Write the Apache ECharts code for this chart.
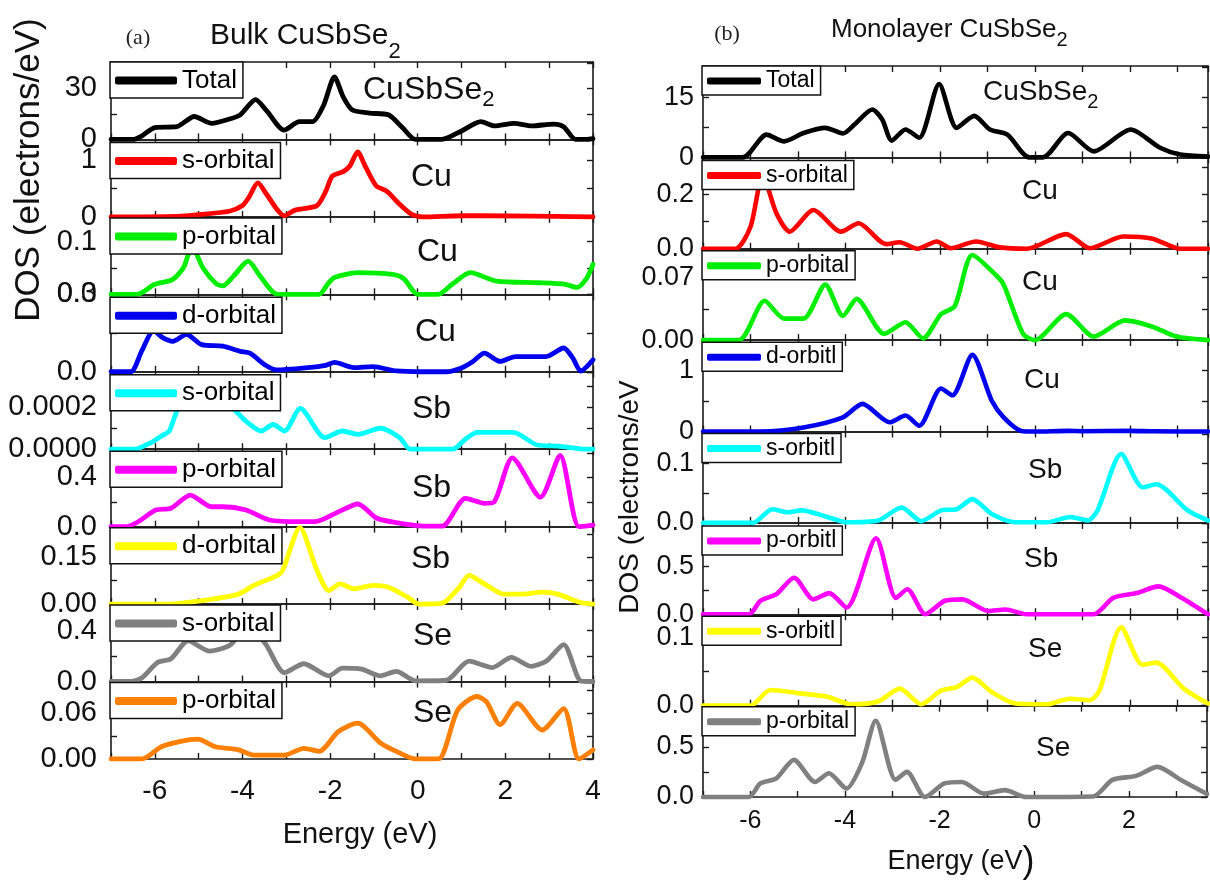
<!DOCTYPE html>
<html><head><meta charset="utf-8">
<script src="https://cdn.jsdelivr.net/npm/echarts@6/dist/echarts.min.js"></script>
<style>html,body{margin:0;padding:0;background:#fff}#c{width:1210px;height:884px}</style>
</head><body><div id="c"></div>
<script>
// ---------------- DATA (energy in eV, DOS in electrons/eV) ----------------
// Panel (a): Bulk CuSbSe2
const bulkTotal = [[-7,0],[-6.5,0],[-6.3,2],[-6.0,7],[-5.5,7.5],[-5.1,13.5],[-4.7,9.5],[-4.3,12],[-4.05,14.5],[-3.7,23.5],[-3.45,17],[-3.05,5.5],[-2.7,10.5],[-2.4,10.5],[-2.15,20],[-1.9,36.8],[-1.7,25],[-1.5,17.5],[-1.1,15.5],[-0.67,14.5],[-0.35,7],[-0.05,0],[0.55,0],[1.0,5],[1.44,10.5],[1.75,8],[2.2,9.5],[2.6,8],[3.1,9],[3.33,7.5],[3.6,0],[3.85,0],[4,0.5]];
const bulkCuS = [[-7,0],[-5.5,0.01],[-5,0.04],[-4.3,0.1],[-4,0.2],[-3.85,0.35],[-3.65,0.6],[-3.45,0.4],[-3.2,0.12],[-3.05,0.02],[-2.8,0.12],[-2.3,0.2],[-2.1,0.45],[-1.95,0.72],[-1.7,0.8],[-1.55,0.9],[-1.37,1.15],[-1.2,0.9],[-0.95,0.55],[-0.7,0.45],[-0.45,0.25],[-0.15,0.05],[0.1,0],[1,0.02],[1.5,0.02],[4,0]];
const bulkCuP = [[-7,0],[-6.4,0],[-6.0,0.019],[-5.6,0.028],[-5.35,0.05],[-5.15,0.09],[-4.9,0.05],[-4.6,0.02],[-4.45,0.016],[-4.2,0.035],[-3.87,0.063],[-3.6,0.035],[-3.2,0],[-2.25,0],[-2.05,0.02],[-1.9,0.032],[-1.37,0.041],[-0.58,0.038],[-0.32,0.03],[0,0],[0.47,0],[0.8,0.02],[1.2,0.041],[1.8,0.025],[2.75,0.022],[3.37,0.019],[3.63,0.013],[3.85,0.03],[4,0.057]];
const bulkCuD = [[-7,0],[-6.55,0],[-6.3,0.08],[-6.03,0.158],[-5.8,0.13],[-5.59,0.118],[-5.28,0.145],[-4.93,0.105],[-4.45,0.099],[-4.05,0.079],[-3.83,0.072],[-3.48,0.026],[-3.22,0.007],[-2.51,0.016],[-2.1,0.025],[-1.9,0.036],[-1.46,0.016],[-1.02,0.02],[-0.49,0.003],[0.1,0],[0.65,0],[1.0,0.015],[1.26,0.04],[1.52,0.072],[1.88,0.04],[2.23,0.059],[2.93,0.059],[3.33,0.092],[3.54,0.053],[3.72,0.003],[4,0.046]];
const bulkSbS = [[-7,0],[-6.46,0],[-6.1,0.00003],[-5.85,0.000063],[-5.67,0.000087],[-5.45,0.0002],[-5.0,0.00027],[-4.6,0.00024],[-4.2,0.00019],[-3.92,0.000134],[-3.57,0.000087],[-3.3,0.000118],[-3.04,0.000087],[-2.68,0.000195],[-2.12,0.000055],[-1.72,0.000087],[-1.37,0.000071],[-0.85,0.0001],[-0.41,0.000055],[-0.17,0],[0.8,0],[1.1,0.00005],[1.36,0.00008],[2.18,0.00008],[2.73,0.00002],[3.2,0.000015],[3.87,0],[4,0]];
const bulkSbP = [[-7,0],[-6.65,0],[-6.38,0.04],[-5.98,0.135],[-5.63,0.15],[-5.19,0.257],[-4.71,0.162],[-4.45,0.162],[-3.92,0.135],[-3.39,0.054],[-2.69,0.04],[-2.34,0.04],[-1.81,0.12],[-1.37,0.184],[-0.93,0.068],[-0.49,0.032],[0.12,0.005],[0.56,0.005],[1.09,0.23],[1.52,0.19],[1.74,0.2],[2.16,0.56],[2.8,0.24],[3.25,0.58],[3.68,0],[4,0.013]];
const bulkSbD = [[-7,0],[-5.67,0],[-4.97,0.01],[-4.09,0.032],[-3.74,0.06],[-3.2,0.092],[-3.08,0.108],[-2.69,0.245],[-2.3,0.108],[-2.03,0.043],[-1.77,0.065],[-1.46,0.049],[-1.02,0.06],[-0.67,0.054],[-0.23,0.022],[0.03,0],[0.56,0.003],[0.95,0.054],[1.17,0.092],[1.52,0.065],[1.96,0.032],[2.4,0.032],[2.84,0.038],[3.19,0.032],[3.72,0.005],[4,0]];
const bulkSeS = [[-7,0],[-6.55,0],[-6.29,0.03],[-5.94,0.15],[-5.63,0.18],[-5.24,0.32],[-4.75,0.24],[-4.27,0.29],[-3.9,0.44],[-3.48,0.3],[-3.04,0.07],[-2.6,0.14],[-2.03,0.045],[-1.72,0.105],[-1.28,0.097],[-0.85,0.045],[-0.49,0.08],[-0.05,0.005],[0.65,0.01],[1.17,0.16],[1.7,0.11],[2.14,0.19],[2.58,0.12],[2.93,0.16],[3.33,0.29],[3.72,0.005],[4,0]];
const bulkSeP = [[-7,0],[-6.29,0],[-5.85,0.016],[-5.41,0.023],[-5.02,0.026],[-4.62,0.016],[-4.09,0.012],[-3.74,0.005],[-3.04,0.005],[-2.6,0.014],[-2.25,0.01],[-1.81,0.036],[-1.37,0.047],[-0.85,0.021],[-0.49,0.01],[-0.05,0],[0.47,0],[0.91,0.064],[1.35,0.082],[1.57,0.075],[1.88,0.045],[2.27,0.073],[2.84,0.038],[3.33,0.066],[3.68,0],[4,0.012]];

// Panel (b): Monolayer CuSbSe2
const monoTotal = [[-7,0],[-6.16,0],[-5.66,5.7],[-5.29,4],[-4.88,6.1],[-4.42,7.4],[-4.05,6],[-3.8,8.3],[-3.43,12],[-3.22,9.5],[-3.02,4.2],[-2.73,7],[-2.44,4.9],[-2.02,18.4],[-1.65,7.4],[-1.28,10.4],[-0.95,7],[-0.58,5.7],[-0.12,0],[0.17,0],[0.7,6.1],[1.24,1.5],[2.02,7],[2.64,2.4],[3.06,0.7],[3.65,0.2]];
const monoCuS = [[-7,0],[-6.32,0],[-6.0,0.08],[-5.74,0.27],[-5.45,0.13],[-5.17,0.063],[-4.67,0.143],[-4.09,0.063],[-3.72,0.094],[-3.14,0.017],[-2.85,0.024],[-2.48,0],[-2.07,0.027],[-1.78,0.002],[-1.24,0.027],[-0.74,0.005],[-0.17,0],[0.66,0.054],[1.16,0.002],[1.86,0.045],[2.48,0.037],[3.06,0],[3.65,0]];
const monoCuP = [[-7,0],[-6.24,0],[-5.7,0.044],[-5.29,0.024],[-4.88,0.024],[-4.42,0.062],[-4.05,0.027],[-3.76,0.046],[-3.18,0.007],[-2.73,0.02],[-2.36,0.002],[-1.98,0.029],[-1.69,0.038],[-1.32,0.095],[-0.83,0.073],[-0.66,0.062],[-0.25,0.007],[0,0],[0.66,0.029],[1.24,0.004],[1.9,0.022],[2.48,0.015],[2.98,0.004],[3.65,0]];
const monoCuD = [[-7,0],[-5.79,0],[-4.88,0.066],[-4.05,0.23],[-3.64,0.45],[-3.06,0.15],[-2.73,0.26],[-2.44,0.093],[-1.98,0.7],[-1.74,0.59],[-1.32,1.25],[-0.91,0.5],[-0.66,0.23],[-0.29,0.01],[0,0],[0.7,0.01],[1.0,0.005],[2,0.01],[2.5,0.003],[3.65,0]];
const monoSbS = [[-7,0],[-5.95,0],[-5.54,0.023],[-5.21,0.018],[-4.92,0.021],[-4.38,0.01],[-3.97,0.001],[-3.31,0.004],[-2.81,0.026],[-2.4,0.003],[-1.98,0.021],[-1.65,0.023],[-1.32,0.04],[-0.91,0.015],[-0.41,0.001],[0.25,0.001],[0.74,0.01],[1.12,0.004],[1.32,0.021],[1.82,0.116],[2.27,0.06],[2.56,0.065],[3.22,0.021],[3.65,0.004]];
const monoSbP = [[-7,0],[-6.03,0],[-5.79,0.14],[-5.45,0.21],[-5.08,0.38],[-4.67,0.155],[-4.34,0.22],[-3.97,0.07],[-3.35,0.79],[-2.93,0.17],[-2.69,0.26],[-2.31,0],[-1.9,0.14],[-1.53,0.155],[-0.99,0.034],[-0.62,0.05],[-0.17,0],[1.24,0],[1.65,0.17],[2.15,0.22],[2.6,0.29],[3.1,0.17],[3.65,0]];
const monoSeS = [[-7,0],[-6.0,0],[-5.58,0.023],[-4.96,0.018],[-4.38,0.013],[-3.88,0.002],[-3.31,0.006],[-2.85,0.025],[-2.4,0.002],[-1.98,0.022],[-1.65,0.027],[-1.32,0.041],[-0.91,0.02],[-0.41,0.003],[0.25,0.002],[0.74,0.01],[1.16,0.008],[1.36,0.022],[1.82,0.115],[2.27,0.06],[2.56,0.063],[3.14,0.025],[3.65,0.003]];
const monoSeP = [[-7,0],[-6.03,0],[-5.79,0.135],[-5.45,0.186],[-5.08,0.37],[-4.63,0.15],[-4.34,0.236],[-3.97,0.084],[-3.64,0.34],[-3.35,0.76],[-2.93,0.17],[-2.69,0.25],[-2.31,0],[-1.9,0.135],[-1.53,0.15],[-1.07,0.034],[-0.62,0.068],[-0.17,0],[1.24,0.005],[1.65,0.17],[2.15,0.21],[2.6,0.3],[3.1,0.17],[3.65,0.03]];

// legend texts, element labels
const bulkLegend = ['Total','s-orbital','p-orbital','d-orbital','s-orbital','p-orbital','d-orbital','s-orbital','p-orbital'];
const bulkElement = ['CuSbSe{s|2}','Cu','Cu','Cu','Sb','Sb','Sb','Se','Se'];
const monoLegend = ['Total','s-orbital','p-orbital','d-orbitl','s-orbitl','p-orbitl','s-orbitl','p-orbital'];
const monoElement = ['CuSbSe{s|2}','Cu','Cu','Cu','Sb','Sb','Se','Se'];

// y-axis scales: max, tick step, label step, label decimals
const bulkYMax = [45.6, 1.37, 0.147, 0.3, 0.00037, 0.63, 0.248, 0.61, 0.1017];
const bulkYTick = [15, 0.5, 0.05, 0.15, 0.0001, 0.2, 0.075, 0.2, 0.03];
const bulkYLabelStep = [30, 1, 0.1, 0.3, 0.0002, 0.4, 0.15, 0.4, 0.06];
const bulkYDecimals = [0, 0, 1, 1, 4, 1, 2, 1, 2];
const monoYMax = [22.9, 0.337, 0.102, 1.49, 0.154, 0.95, 0.134, 0.91];
const monoYTick = [7.5, 0.1, 0.035, 0.5, 0.05, 0.25, 0.05, 0.25];
const monoYLabelStep = [15, 0.2, 0.07, 1, 0.1, 0.5, 0.1, 0.5];
const monoYDecimals = [0, 1, 2, 0, 1, 1, 1, 1];

// ---------------- STYLE / LAYOUT ----------------
const FONT = '"Liberation Sans", Arial, sans-serif';
const bulkColors = ['#000000','#ff0000','#00ee00','#0000ee','#00ffff','#ff00ff','#ffff00','#808080','#ff8000'];
const monoColors = ['#000000','#ff0000','#00ee00','#0000ee','#00ffff','#ff00ff','#ffff00','#808080'];

const panels = [
  {key:'bulk', curves:[bulkTotal,bulkCuS,bulkCuP,bulkCuD,bulkSbS,bulkSbP,bulkSbD,bulkSeS,bulkSeP],
   colors:bulkColors, legend:bulkLegend, element:bulkElement,
   yMax:bulkYMax, yTick:bulkYTick, yLab:bulkYLabelStep, yDec:bulkYDecimals,
   left:111, width:482, top:62, h:77.44, xMax:4, lineW:4.8,
   yFont:29, yMargin:14, xFont:28, xMargin:18,
   legFont:26, legLH:29, legIcon:[62,8], legPad:[4,6,3,5], legOff:[0,3,1,3,3,2,1,1,1],
   elemFont:32, elemSub:22, elemPos:[[363,90],[411,177],[417,252],[415,332],[412,409],[412,488],[411,559],[413,636],[413,713]]},
  {key:'mono', curves:[monoTotal,monoCuS,monoCuP,monoCuD,monoSbS,monoSbP,monoSeS,monoSeP],
   colors:monoColors, legend:monoLegend, element:monoElement,
   yMax:monoYMax, yTick:monoYTick, yLab:monoYLabelStep, yDec:monoYDecimals,
   left:703, width:505, top:66, h:91.375, xMax:3.65, lineW:4.6,
   yFont:27, yMargin:9, xFont:25, xMargin:12,
   legFont:23, legLH:24, legIcon:[54,7], legPad:[3,6,2,5], legOff:[0,3,2,2,2,3,2,1],
   elemFont:28, elemSub:20, elemPos:[[983,92],[1022,191],[1022,282],[1024,380],[1028,470],[1024,559],[1028,649],[1036,748]]}
];

const grids = [], xAxes = [], yAxes = [], series = [], legends = [], graphics = [];
const AX = '#1a1a1a';

panels.forEach(p => {
  p.curves.forEach((curve, i) => {
    const gi = grids.length;
    const top = p.top + i * p.h;
    const last = i === p.curves.length - 1;
    grids.push({left:p.left, top:top, width:p.width, height:p.h});
    const axisLine = {show:true, onZero:false, lineStyle:{color:AX, width:1.6}};
    const axisTick = {show:true, inside:true, length:6, lineStyle:{color:AX, width:1.4}};
    const xLab = {show:last, margin:p.xMargin, fontSize:p.xFont, fontFamily:FONT, color:'#111',
      formatter: v => (Number.isInteger(v) && v % 2 === 0) ? String(v) : ''};
    xAxes.push({type:'value', gridIndex:gi, position:'bottom', min:-7, max:p.xMax, interval:1,
      axisLine, axisTick, axisLabel:xLab, splitLine:{show:false}});
    xAxes.push({type:'value', gridIndex:gi, position:'top', min:-7, max:p.xMax, interval:1,
      axisLine, axisTick, axisLabel:{show:false}, splitLine:{show:false}});
    const ls = p.yLab[i], dec = p.yDec[i];
    const yLab = {show:true, margin:p.yMargin, fontSize:p.yFont, fontFamily:FONT, color:'#111',
      formatter: v => { const r = v / ls; return Math.abs(r - Math.round(r)) < 1e-6 ? v.toFixed(dec) : ''; }};
    yAxes.push({type:'value', gridIndex:gi, position:'left', min:0, max:p.yMax[i], interval:p.yTick[i],
      axisLine, axisTick, axisLabel:yLab, splitLine:{show:false}});
    yAxes.push({type:'value', gridIndex:gi, position:'right', min:0, max:p.yMax[i], interval:p.yTick[i],
      axisLine, axisTick, axisLabel:{show:false}, splitLine:{show:false}});
    const name = p.key + '_' + i;
    series.push({type:'line', name:name, xAxisIndex:2*gi, yAxisIndex:2*gi, data:curve,
      showSymbol:false, symbol:'none', smooth:0.25, clip:false, silent:true, z:3,
      lineStyle:{width:p.lineW, color:p.colors[i], cap:'round', join:'round'},
      itemStyle:{color:p.colors[i]}});
    const txt = p.legend[i];
    legends.push({show:true, selectedMode:false, data:[name], left:p.left - 1, top:top + p.legOff[i],
      orient:'horizontal', icon:'roundRect', itemWidth:p.legIcon[0], itemHeight:p.legIcon[1],
      padding:p.legPad, borderColor:'#111', borderWidth:1.5, backgroundColor:'#fff', z:10,
      textStyle:{fontSize:p.legFont, fontFamily:FONT, color:'#000', lineHeight:p.legLH},
      formatter: () => txt});
    const ep = p.elemPos[i];
    graphics.push({type:'text', x:ep[0], y:ep[1], z:20, style:{text:p.element[i], fontSize:p.elemFont, fontFamily:FONT,
      fill:'#111', align:'left', verticalAlign:'middle', textAlign:'left', textVerticalAlign:'middle',
      rich:{s:{fontSize:p.elemSub, fontFamily:FONT, fill:'#111', padding:[20,0,0,0]}}}});
  });
});

// titles and axis names
graphics.push(
  {type:'text', x:138, y:38, style:{text:'(a)', fontSize:22, fontFamily:'"Liberation Serif", serif', fill:'#222', align:'center', verticalAlign:'middle', textAlign:'center', textVerticalAlign:'middle'}},
  {type:'text', x:210, y:36, style:{text:'Bulk CuSbSe{s|2}', fontSize:30, fontFamily:FONT, fill:'#111', align:'left', verticalAlign:'middle', textAlign:'left', textVerticalAlign:'middle',
    rich:{s:{fontSize:22, fontFamily:FONT, fill:'#111', padding:[32,0,0,0]}}}},
  {type:'text', x:727, y:34, style:{text:'(b)', fontSize:22, fontFamily:'"Liberation Serif", serif', fill:'#222', align:'center', verticalAlign:'middle', textAlign:'center', textVerticalAlign:'middle'}},
  {type:'text', x:831, y:30, style:{text:'Monolayer CuSbSe{s|2}', fontSize:26, fontFamily:FONT, fill:'#111', align:'left', verticalAlign:'middle', textAlign:'left', textVerticalAlign:'middle',
    rich:{s:{fontSize:20, fontFamily:FONT, fill:'#111', padding:[20,0,0,0]}}}},
  {type:'text', x:29, y:170, rotation:Math.PI/2, style:{text:'DOS (electrons/eV)', fontSize:35, fontFamily:FONT, fill:'#111', align:'center', verticalAlign:'middle', textAlign:'center', textVerticalAlign:'middle'}},
  {type:'text', x:630, y:497, rotation:Math.PI/2, style:{text:'DOS (electrons/eV', fontSize:28, fontFamily:FONT, fill:'#111', align:'center', verticalAlign:'middle', textAlign:'center', textVerticalAlign:'middle'}},
  {type:'text', x:360, y:835, style:{text:'Energy (eV)', fontSize:29, fontFamily:FONT, fill:'#111', align:'center', verticalAlign:'middle', textAlign:'center', textVerticalAlign:'middle'}},
  {type:'text', x:961, y:862, style:{text:'Energy (eV{p|)}', fontSize:27, fontFamily:FONT, fill:'#111', align:'center', verticalAlign:'middle', textAlign:'center', textVerticalAlign:'middle',
    rich:{p:{fontSize:36, fontFamily:FONT, fill:'#111'}}}}
);

const chart = echarts.init(document.getElementById('c'), null, {renderer:'canvas'});
chart.setOption({
  animation:false,
  backgroundColor:'#fff',
  grid:grids, xAxis:xAxes, yAxis:yAxes, series:series, legend:legends, graphic:graphics
});
</script></body></html>
